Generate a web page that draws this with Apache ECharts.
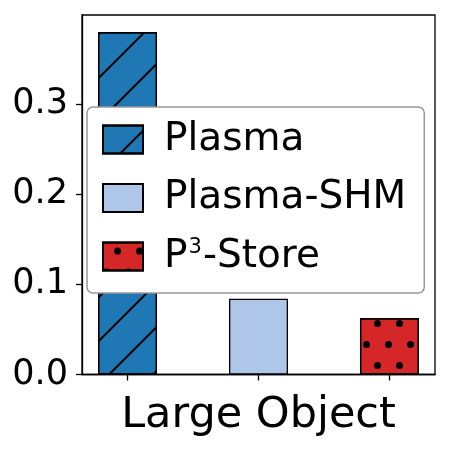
<!DOCTYPE html>
<html>
<head>
<meta charset="utf-8">
<script src="https://cdn.jsdelivr.net/npm/echarts@6/dist/echarts.min.js"></script>
<style>
  html, body { margin: 0; padding: 0; background: #fff; }
  #chart { width: 449px; height: 449px; }
</style>
</head>
<body>
<div id="chart"></div>
<script>
// data
var names = ['Plasma', 'Plasma-SHM', 'P3-Store'];
var positions = [0, 1, 2];
var values = [0.380, 0.084, 0.0626];
var groupLabel = 'Large Object';
var yTicks = [0, 0.1, 0.2, 0.3];

var colors = ['#1f77b4', '#aec7e8', '#d62728'];
var font = 'DejaVu Sans';

var decals = [
  // '/' hatch
  { symbol: 'rect', symbolSize: 1, color: '#000', dashArrayX: [1, 0], dashArrayY: [2, 29], rotation: -Math.PI / 4 },
  'none',
  // dots, staggered rows (first row empty, only shifts the grid)
  { symbol: 'circle', symbolSize: 1, color: '#000',
    dashArrayX: [[7, 15], [0, 11, 7, 4], [7, 15]], dashArrayY: [0, 5, 7, 14, 7, 9], rotation: 0 }
];

var chart = echarts.init(document.getElementById('chart'));

var series = names.map(function (n, i) {
  var st = { color: colors[i], borderColor: '#000', borderWidth: 1.3 };
  if (decals[i] !== 'none') st.decal = decals[i];
  return {
    name: n,
    type: 'bar',
    barWidth: 59,
    barGap: '-100%',
    itemStyle: st,
    data: [[positions[i], values[i]]]
  };
});

chart.setOption({
  animation: false,
  textStyle: { fontFamily: font },
  grid: { left: 82, right: 14, top: 15, bottom: 74.5, show: true, borderColor: '#000', borderWidth: 1.3 },
  legend: {
    orient: 'vertical',
    left: 87,
    top: 107,
    padding: [13, 18, 17, 15],
    icon: 'rect',
    itemWidth: 40,
    itemHeight: 28,
    itemGap: 19.5,
    backgroundColor: '#fff',
    borderColor: '#999',
    borderWidth: 1.5,
    borderRadius: 6,
    formatter: function (n) {
      // P^3 written with a superscript
      if (n === 'P3-Store') return '{a|P}{s|3}{a|-Store}';
      return '{a|' + n + '}';
    },
    textStyle: {
      fontFamily: font, fontSize: 39, color: '#000', padding: [0, 0, 0, 16],
      rich: {
        a: { fontFamily: font, fontSize: 39, color: '#000' },
        s: { fontFamily: font, fontSize: 21, color: '#000', verticalAlign: 'top', lineHeight: 12, padding: [0, 1, 0, 1] }
      }
    },
    data: names
  },
  xAxis: {
    type: 'value',
    min: -0.3475,
    max: 2.3475,
    splitLine: { show: false },
    axisLine: { show: true, onZero: false, lineStyle: { color: '#000', width: 1.3 } },
    axisTick: { show: true, length: 6, lineStyle: { color: '#000', width: 1.3 }, customValues: positions },
    axisLabel: {
      customValues: [1],
      formatter: function () { return groupLabel; },
      fontFamily: font, fontSize: 43, color: '#000', margin: 20
    }
  },
  yAxis: {
    type: 'value',
    min: 0,
    max: 0.399,
    splitLine: { show: false },
    axisLine: { show: true, onZero: false, lineStyle: { color: '#000', width: 1.3 } },
    axisTick: { show: true, length: 6, lineStyle: { color: '#000', width: 1.3 }, customValues: yTicks },
    axisLabel: {
      customValues: yTicks,
      formatter: function (v) { return v.toFixed(1); },
      fontFamily: font, fontSize: 35, color: '#000', margin: 14
    }
  },
  series: series
});
</script>
</body>
</html>
